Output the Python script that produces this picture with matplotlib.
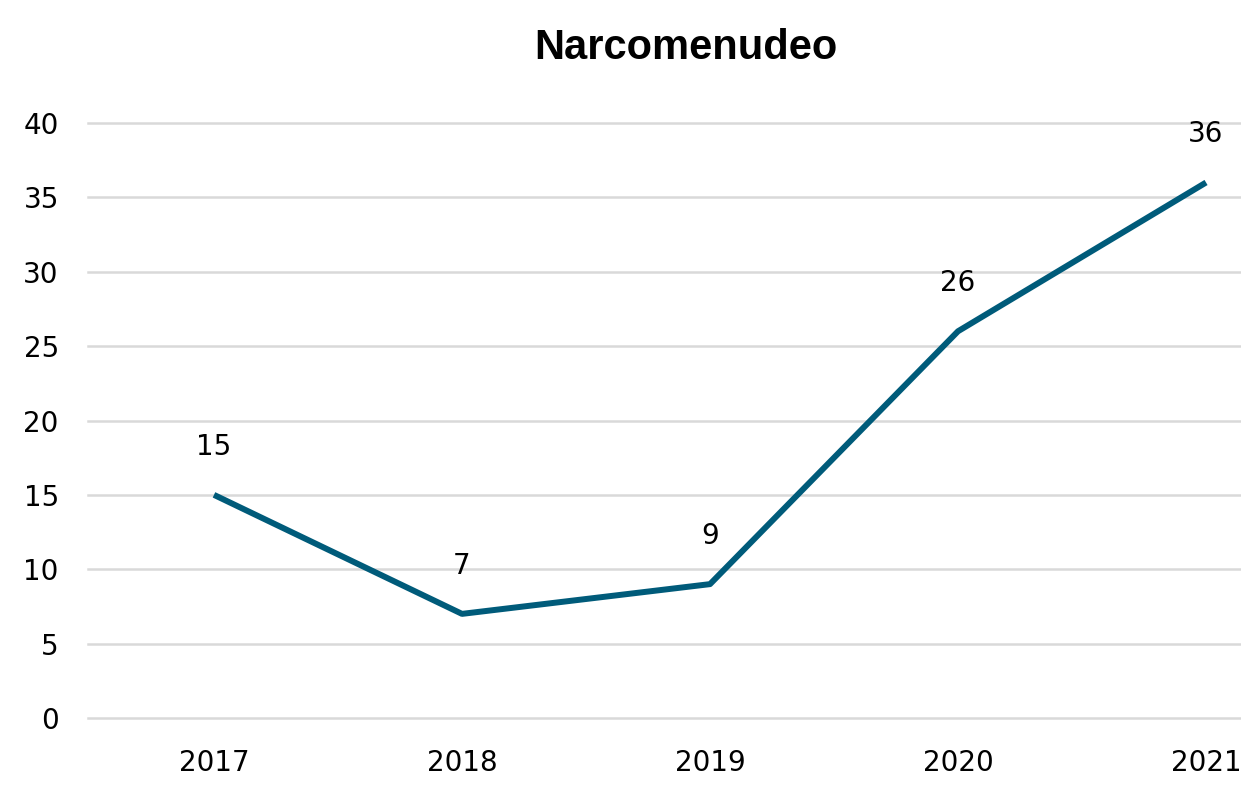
import matplotlib
matplotlib.use("Agg")
import matplotlib.pyplot as plt

years = ["2017", "2018", "2019", "2020", "2021"]
values = [15, 7, 9, 26, 36]
yticks = [0, 5, 10, 15, 20, 25, 30, 35, 40]
title = "Narcomenudeo"

W, H = 1241, 801
fig = plt.figure(figsize=(W / 100, H / 100), dpi=100)
fig.patch.set_facecolor("white")

left, right, bottom, top = 88, 1241, 718, 123
ax = fig.add_axes([left / W, (H - bottom) / H, (right - left) / W, (bottom - top) / H])
ax.set_facecolor("white")

x = list(range(len(years)))
ax.plot(x, values, color="#005B7A", linewidth=4.3, solid_joinstyle="round", solid_capstyle="butt", zorder=3)

for xi, v in zip(x, values):
    ax.annotate(str(v), (xi, v), xytext=(0, 48), textcoords="offset pixels",
                ha="center", va="center", fontsize=20, family="DejaVu Sans", color="#000000")

ax.set_ylim(0, 40)
ax.set_xlim(-0.508, 4.141)
ax.set_yticks(yticks)
ax.set_yticklabels([str(t) for t in yticks])
ax.set_xticks(x)
ax.set_xticklabels(years)
ax.grid(axis="y", color="#D9D9D9", linewidth=1.8)
ax.set_axisbelow(True)
for gl in ax.get_ygridlines():
    gl.set_clip_on(False)
for s in ax.spines.values():
    s.set_visible(False)
ax.tick_params(axis="both", length=0, labelsize=20, colors="#000000")
ax.tick_params(axis="y", pad=21)
ax.tick_params(axis="x", pad=22)
for lab in ax.get_xticklabels() + ax.get_yticklabels():
    lab.set_family("DejaVu Sans")

fig.text(686 / W, 1 - 48 / H, title, ha="center", va="center", fontsize=30,
         fontweight="bold", family="Liberation Sans", color="#000000")

fig.savefig("out.png", dpi=100)
